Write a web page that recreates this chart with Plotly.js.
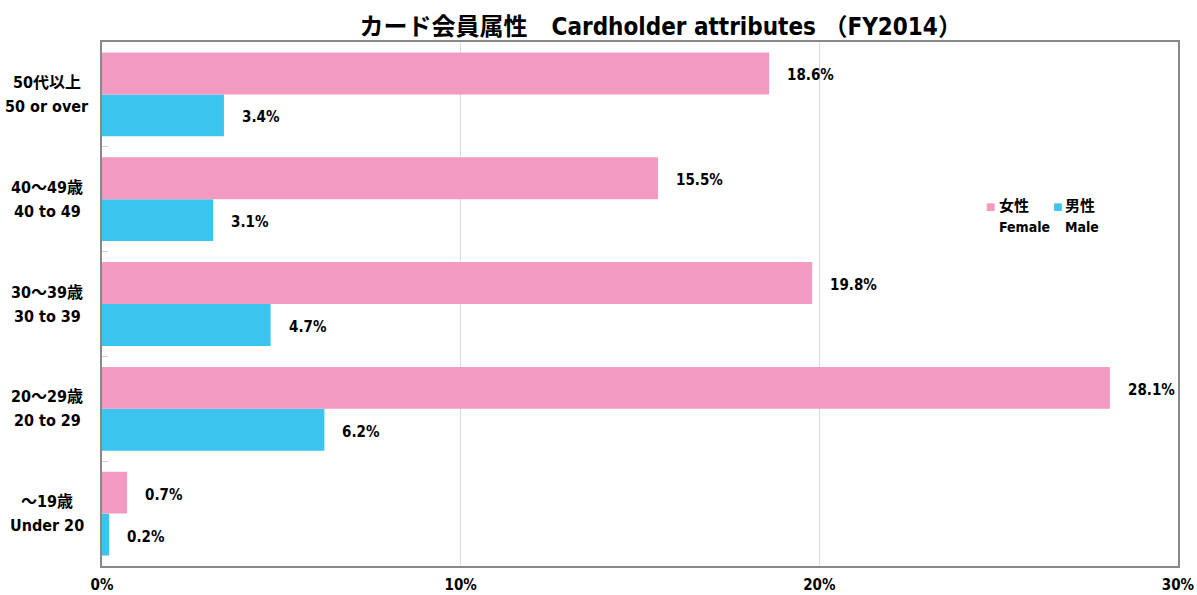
<!DOCTYPE html>
<html><head><meta charset="utf-8">
<script src="https://cdn.plot.ly/plotly-3.0.1.min.js"></script>
<style>html,body{margin:0;padding:0;background:#fff}#c{width:1197px;height:595px}</style>
</head><body><div id="c"></div>
<script>
const categoriesJa = ["〜19歳", "20〜29歳", "30〜39歳", "40〜49歳", "50代以上"];
const categoriesEn = ["Under 20", "20 to 29", "30 to 39", "40 to 49", "50 or over"];
const catKeys = ["u20", "20s", "30s", "40s", "50+"];
const femaleValues = [0.7, 28.1, 19.8, 15.5, 18.6];
const maleValues = [0.2, 6.2, 4.7, 3.1, 3.4];
const seriesJa = ["女性", "男性"];
const seriesEn = ["Female", "Male"];
const xTickVals = [0, 10, 20, 30];
const xTickText = ["0%", "10%", "20%", "30%"];

const FONT = "'DejaVu Sans Condensed', 'Noto Sans CJK JP', sans-serif";
const PINK = "#F29AC2", CYAN = "#3BC4EE";
const colors = [PINK, CYAN];

const traces = [
  {type:"bar", orientation:"h", name:seriesEn[1], y:catKeys, x:maleValues, marker:{color:CYAN}, hoverinfo:"none", showlegend:false},
  {type:"bar", orientation:"h", name:seriesEn[0], y:catKeys, x:femaleValues, marker:{color:PINK}, hoverinfo:"none", showlegend:false}
];

const LF = {family:FONT, size:15, color:"#000"};
const annotations = [];
catKeys.forEach((k,i)=>{
  annotations.push({x:femaleValues[i], y:k, xref:"x", yref:"y", text:"<b>"+femaleValues[i].toFixed(1)+"%</b>", showarrow:false, xanchor:"left", xshift:16, yshift:19, font:LF});
  annotations.push({x:maleValues[i], y:k, xref:"x", yref:"y", text:"<b>"+maleValues[i].toFixed(1)+"%</b>", showarrow:false, xanchor:"left", xshift:16, yshift:-23, font:LF});
  annotations.push({x:-0.051, y:k, xref:"paper", yref:"y", text:"<b>"+categoriesJa[i]+"</b>", showarrow:false, xanchor:"center", yshift:12, font:{family:FONT, size:16, color:"#000"}});
  annotations.push({x:-0.051, y:k, xref:"paper", yref:"y", text:"<b>"+categoriesEn[i]+"</b>", showarrow:false, xanchor:"center", yshift:-12, font:{family:FONT, size:16, color:"#000"}});
});
// custom legend (female, male)
const legX = [[0.8262, 0.8318], [0.8876, 0.8932]];
seriesJa.forEach((s,j)=>{
  annotations.push({x:legX[j][0], y:0.687, xref:"paper", yref:"paper", text:"■", showarrow:false, xanchor:"center", yanchor:"middle", font:{family:"DejaVu Sans", size:10, color:colors[j]}});
  annotations.push({x:legX[j][1], y:0.687, xref:"paper", yref:"paper", text:"<b>"+s+"</b>", showarrow:false, xanchor:"left", yanchor:"middle", font:{family:FONT, size:15, color:"#000"}});
  annotations.push({x:legX[j][1], y:0.647, xref:"paper", yref:"paper", text:"<b>"+seriesEn[j]+"</b>", showarrow:false, xanchor:"left", yanchor:"middle", font:{family:FONT, size:14, color:"#000"}});
});

const layout = {
  width:1197, height:595,
  margin:{l:102, r:19, t:42, b:29},
  paper_bgcolor:"#fff", plot_bgcolor:"#fff",
  title:{text:"<b>カード会員属性　Cardholder attributes （FY2014）</b>", font:{family:FONT, size:24, color:"#000"}, x:0.552, xref:"container", xanchor:"center", y:0.955, yref:"container", yanchor:"middle"},
  barmode:"group", bargap:0.2, bargroupgap:0,
  xaxis:{range:[0,30], tickvals:xTickVals, ticktext:xTickText.map(t=>"<b>"+t+"</b>"), showgrid:true, gridcolor:"#d9d9d9", gridwidth:1, zeroline:false,
         showline:true, linecolor:"#888", linewidth:2, mirror:true, ticks:"outside", ticklen:4, tickcolor:"rgba(0,0,0,0)",
         tickfont:{family:FONT, size:15, color:"#000"}, fixedrange:true},
  yaxis:{type:"category", categoryorder:"array", categoryarray:catKeys, showticklabels:false, showgrid:false, zeroline:false,
         ticks:"inside", tickson:"boundaries", ticklen:6, tickcolor:"#cfcfcf", tickwidth:1,
         showline:true, linecolor:"#888", linewidth:2, mirror:true, fixedrange:true},
  showlegend:false,
  annotations:annotations
};
Plotly.newPlot("c", traces, layout, {staticPlot:true});
</script></body></html>
